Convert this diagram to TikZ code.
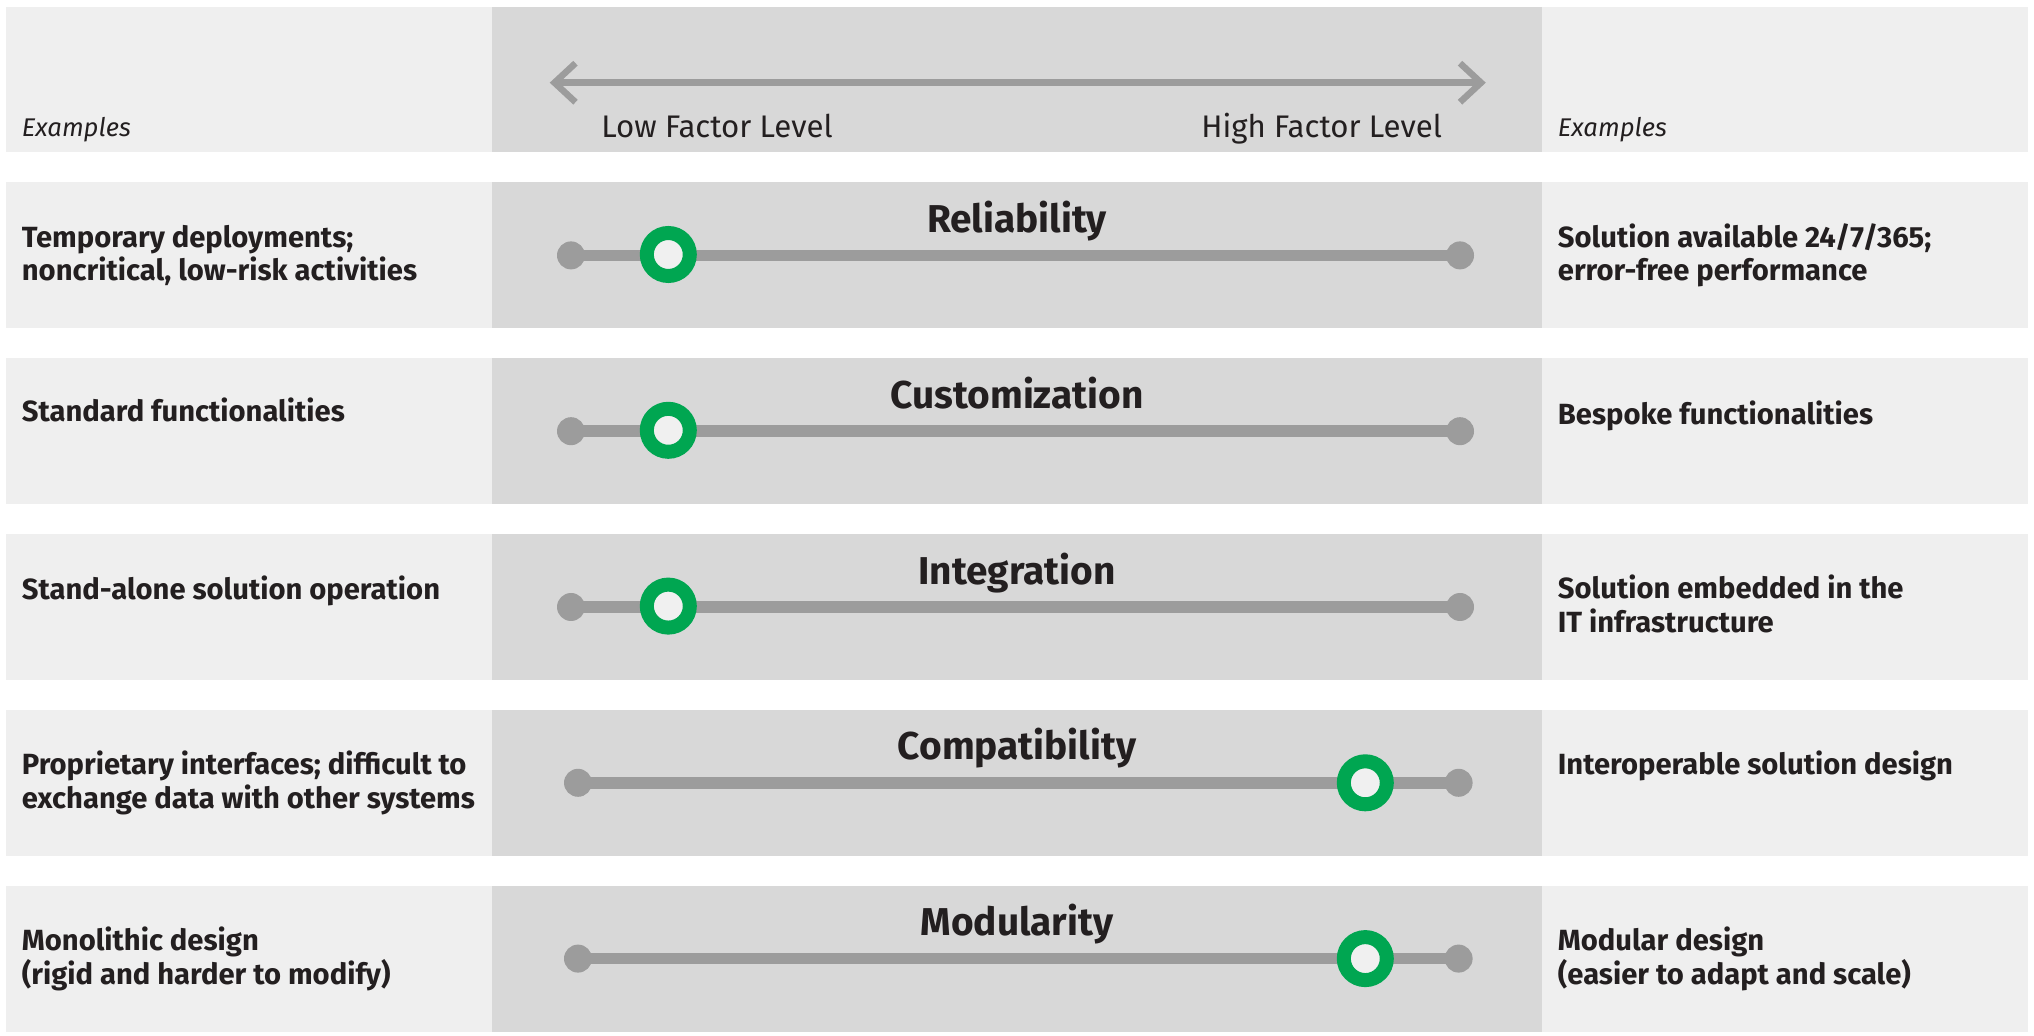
\documentclass[tikz,border=0pt]{standalone}
\usepackage{fontspec}
\setmainfont{Fira Sans}
\definecolor{lightbg}{HTML}{EFEFEF}
\definecolor{midbg}{HTML}{D8D8D8}
\definecolor{bargray}{HTML}{9C9C9C}
\definecolor{ringgreen}{HTML}{00A651}
\definecolor{ringhole}{HTML}{F0F0F0}
\definecolor{ink}{HTML}{231F20}
\begin{document}
\begin{tikzpicture}[x=0.5pt,y=-0.5pt,
  sidetext/.style={anchor=base west, inner sep=0pt, align=left, text=ink,
    font=\fontsize{14.6pt}{16.8pt}\selectfont\bfseries},
  factortitle/.style={anchor=base, inner sep=0pt, text=ink,
    font=\fontsize{19.4pt}{21pt}\selectfont\bfseries},
  scalelabel/.style={anchor=base west, inner sep=0pt, text=ink,
    font=\fontsize{15.6pt}{17pt}\selectfont},
  exlabel/.style={anchor=base west, inner sep=0pt, text=ink,
    font=\fontsize{12.8pt}{15pt}\selectfont\itshape},
  enddot/.style={circle, fill=bargray, minimum size=14pt, inner sep=0pt},
  ringmark/.style={circle, draw=ringgreen, line width=7pt, fill=ringhole,
    minimum size=21.5pt, inner sep=0pt},
  bar/.style={draw=bargray, line width=5.75pt},
  scalearrow/.style={draw=bargray, line width=3.25pt, line join=miter}
]
\useasboundingbox (0,0) rectangle (2034,1036);
\fill[white] (0,0) rectangle (2034,1036);

% backgrounds: header + 5 rows
\foreach \t in {6.7,182.5,358.3,534.1,709.9,885.7}{
  \fill[lightbg] (6,\t) rectangle (492,\t+145.8);
  \fill[midbg] (492,\t) rectangle (1542,\t+145.8);
  \fill[lightbg] (1542,\t) rectangle (2028,\t+145.8);
}

% header
\coordinate (al) at (554.5,82.7);
\coordinate (ar) at (1481,82.7);
\draw[scalearrow] (al) -- (ar);
\draw[scalearrow] ([shift={(21,-19.5)}]al) -- (al) -- ([shift={(21,19.5)}]al);
\draw[scalearrow] ([shift={(-21,-19.5)}]ar) -- (ar) -- ([shift={(-21,19.5)}]ar);
\node[exlabel] (exl) at (21.5,136.7) {Examples};
\node[exlabel] (exr) at (1557.5,136.7) {Examples};
\node[scalelabel] (low) at (601,137.5) {Low Factor Level};
\node[scalelabel] (high) at (1201,137.5) {High Factor Level};

% row 1: Reliability (two-line nodes are placed by their last baseline)
\node[sidetext] (t1l) at (21.5,281) {Temporary deployments;\\noncritical, low-risk activities};
\node[sidetext] (t1r) at (1557.5,281) {Solution available 24/7/365;\\error-free performance};
\node[factortitle] (f1) at (1017,232.5) {Reliability};
\node[enddot] (l1) at (571,255.4) {};
\node[enddot] (r1) at (1460,255.4) {};
\draw[bar] (l1.center) -- (r1.center);
\node[ringmark] (m1) at (668.3,254.5) {};

% row 2: Customization
\node[sidetext] (t2l) at (21.5,421.5) {Standard functionalities};
\node[sidetext] (t2r) at (1557.5,424.5) {Bespoke functionalities};
\node[factortitle] (f2) at (1017,408.3) {Customization};
\node[enddot] (l2) at (571,431.2) {};
\node[enddot] (r2) at (1460,431.2) {};
\draw[bar] (l2.center) -- (r2.center);
\node[ringmark] (m2) at (668.3,430.3) {};

% row 3: Integration
\node[sidetext] (t3l) at (21.5,599.1) {Stand-alone solution operation};
\node[sidetext] (t3r) at (1557.5,632.6) {Solution embedded in the\\IT infrastructure};
\node[factortitle] (f3) at (1017,584.1) {Integration};
\node[enddot] (l3) at (571,607) {};
\node[enddot] (r3) at (1460,607) {};
\draw[bar] (l3.center) -- (r3.center);
\node[ringmark] (m3) at (668.3,606.1) {};

% row 4: Compatibility
\node[sidetext] (t4l) at (21.5,808.4) {Proprietary interfaces; difficult to\\exchange data with other systems};
\node[sidetext] (t4r) at (1557.5,774.9) {Interoperable solution design};
\node[factortitle] (f4) at (1017,759.9) {Compatibility};
\node[enddot] (l4) at (578,782.8) {};
\node[enddot] (r4) at (1458.6,782.8) {};
\draw[bar] (l4.center) -- (r4.center);
\node[ringmark] (m4) at (1365.3,782.8) {};

% row 5: Modularity
\node[sidetext] (t5l) at (21.5,984.2) {Monolithic design\\(rigid and harder to modify)};
\node[sidetext] (t5r) at (1557.5,984.2) {Modular design\\(easier to adapt and scale)};
\node[factortitle] (f5) at (1017,935.7) {Modularity};
\node[enddot] (l5) at (578,958.6) {};
\node[enddot] (r5) at (1458.6,958.6) {};
\draw[bar] (l5.center) -- (r5.center);
\node[ringmark] (m5) at (1365.3,958.6) {};
\end{tikzpicture}
\end{document}
